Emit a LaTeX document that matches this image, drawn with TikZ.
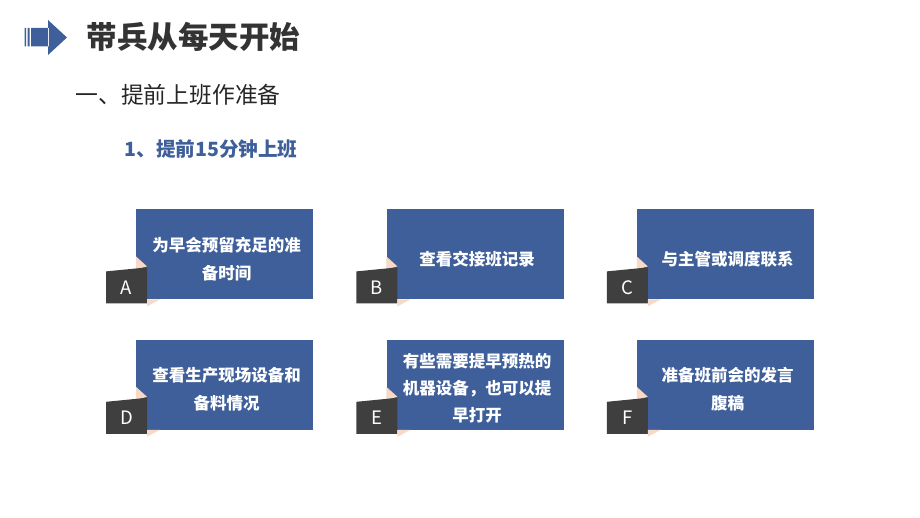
\documentclass[tikz,border=0pt]{standalone}
\usepackage{fontspec}
\setmainfont{Noto Sans CJK SC}
\usepackage{tikz}
\usetikzlibrary{positioning}
\definecolor{slideblue}{HTML}{3E5F9A}
\definecolor{tagdark}{HTML}{3F3F3F}
\definecolor{foldpeach}{HTML}{F6D9C6}
\definecolor{titlegray}{HTML}{333333}

\begin{document}
\begin{tikzpicture}[x=1pt,y=-1pt,
  card/.style={fill=slideblue,minimum width=177pt,minimum height=90pt,inner sep=0pt},
  cardtext/.style={text=white,align=center,inner sep=0pt,font=\bfseries\fontsize{16.5}{28}\selectfont},
  tagletter/.style={text=white,inner sep=0pt,font=\fontsize{18.5}{18.5}\selectfont}]
\useasboundingbox (0,0) rectangle (920,518);
\fill[slideblue]
(24.5,28) rectangle (26,46.5)
(27.5,28) rectangle (29.5,46.5)
(31,28) rectangle (49,46.5)
(48,20) -- (67,37.5) -- (48,55) -- cycle;
\node[anchor=west,text=titlegray,font=\bfseries\fontsize{30.5}{30.5}\selectfont] (title) at (83,37) {带兵从每天开始};
\node[anchor=west,text=black!85,font=\fontsize{22.8}{22.8}\selectfont] (heading) at (72,95) {一、提前上班作准备};
\node[anchor=west,text=slideblue,font=\bfseries\fontsize{19.6}{19.6}\selectfont] (subheading) at (121,149) {1、提前15分钟上班};
\node[card,anchor=north west] (boxa) at (136,209) {};
\node[card,right=73pt of boxa] (boxb) {};
\node[card,right=73pt of boxb] (boxc) {};
\node[card,below=40pt of boxa] (boxd) {};
\node[card,below=40pt of boxb] (boxe) {};
\node[card,below=40pt of boxc] (boxf) {};
\node[cardtext] (texta) at ([xshift=2pt,yshift=-5pt]boxa.center) {为早会预留充足的准\\备时间};
\node[cardtext] (textb) at ([xshift=2pt,yshift=-5pt]boxb.center) {查看交接班记录};
\node[cardtext] (textc) at ([xshift=2pt,yshift=-5pt]boxc.center) {与主管或调度联系};
\node[cardtext] (textd) at ([xshift=2pt,yshift=-5pt]boxd.center) {查看生产现场设备和\\备料情况};
\node[cardtext,font=\bfseries\fontsize{16.5}{27}\selectfont] (texte) at ([xshift=2pt,yshift=-4pt]boxe.center) {有些需要提早预热的\\机器设备，也可以提\\早打开};
\node[cardtext] (textf) at ([xshift=2pt,yshift=-5pt]boxf.center) {准备班前会的发言\\腹稿};
\foreach \b/\l in {boxa/A,boxb/B,boxc/C,boxd/D,boxe/E,boxf/F}{
  \begin{scope}[shift={(\b.south west)}]
  \fill[foldpeach] (0,-43) -- (11,-33) -- (0,-30) -- cycle;
  \fill[tagdark] (-30,-28) -- (11,-32) -- (11,4) -- (-30,4) -- cycle;
  \fill[foldpeach] (11,0) -- (24,0) -- (11,7) -- cycle;
  \node[tagletter] (tag\l) at (-9.5,-12) {\l};
  \end{scope}
}
\end{tikzpicture}
\end{document}
